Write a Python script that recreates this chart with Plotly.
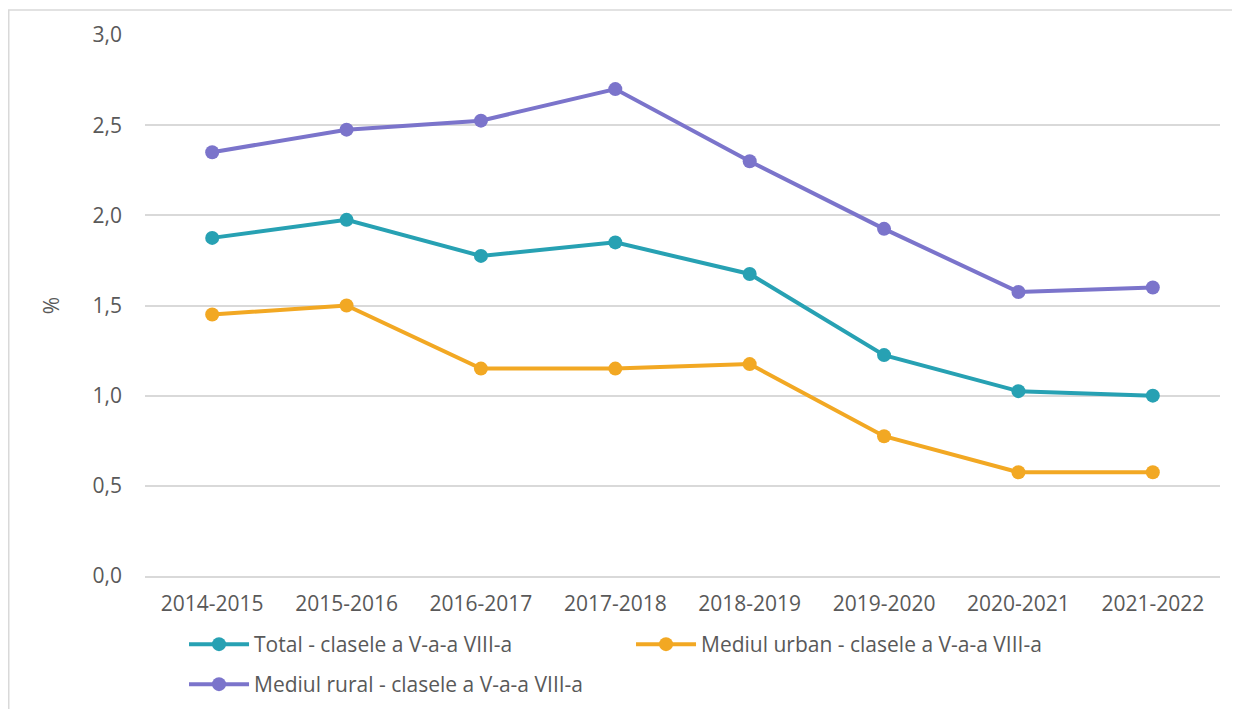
import plotly.graph_objects as go

years = ["2014-2015", "2015-2016", "2016-2017", "2017-2018", "2018-2019", "2019-2020", "2020-2021", "2021-2022"]
total = [1.875, 1.975, 1.775, 1.85, 1.675, 1.225, 1.025, 1.0]
urban = [1.45, 1.5, 1.15, 1.15, 1.175, 0.775, 0.575, 0.575]
rural = [2.35, 2.475, 2.525, 2.7, 2.3, 1.925, 1.575, 1.6]
names = ["Total - clasele a V-a-a VIII-a", "Mediul urban - clasele a V-a-a VIII-a", "Mediul rural - clasele a V-a-a VIII-a"]
colors = ["#27A1B3", "#F2A823", "#7B74CB"]
legends = ["legend", "legend", "legend2"]
yticks = [0, 0.5, 1.0, 1.5, 2.0, 2.5, 3.0]
yticklabels = ["0,0", "0,5", "1,0", "1,5", "2,0", "2,5", "3,0"]

fig = go.Figure()
for vals, name, col, lg in zip([total, urban, rural], names, colors, legends):
    fig.add_trace(go.Scatter(x=years, y=vals, name=name, mode="lines+markers",
                             line=dict(color=col, width=4),
                             marker=dict(color=col, size=14), legend=lg))

FS = 21
font = dict(family="Open Sans, Segoe UI, sans-serif", size=FS, color="#595959")
L, T, W, H = 137, 27, 1075, 541
fig.update_layout(
    width=1240, height=709,
    margin=dict(l=L, r=1240 - L - W, t=T, b=709 - T - H),
    paper_bgcolor="white", plot_bgcolor="white",
    font=font,
    showlegend=True,
    legend=dict(orientation="h", x=0.0363, y=-0.0887, xanchor="left", yanchor="top",
                entrywidth=372, entrywidthmode="pixels", font=dict(size=FS, color="#595959"),
                itemwidth=60, bgcolor="rgba(0,0,0,0)"),
    legend2=dict(orientation="h", x=0.0363, y=-0.1627, xanchor="left", yanchor="top",
                 font=dict(size=FS, color="#595959"), itemwidth=60, bgcolor="rgba(0,0,0,0)"),
    xaxis=dict(type="category", range=[-0.5, 7.5], showgrid=False, showline=True,
               linecolor="#D9D9D9", linewidth=1.5, ticks="", tickfont=dict(size=FS),
               ticklabelstandoff=8),
    yaxis=dict(range=[0, 3.0], tickvals=yticks, ticktext=yticklabels, showgrid=True,
               gridcolor="#D9D9D9", gridwidth=1.5, zeroline=False, showline=False,
               ticks="", ticklabelstandoff=22, tickfont=dict(size=FS),
               title=dict(text="%", standoff=27, font=dict(size=FS))),
    shapes=[dict(type="rect", xref="paper", yref="paper",
                 x0=(0.75 - L) / W, x1=(1245 - L) / W,
                 y0=(T + H - 715) / H, y1=(T + H - 2) / H,
                 line=dict(color="#D9D9D9", width=1.5), layer="below")],
)
fig.write_html("out.html")
